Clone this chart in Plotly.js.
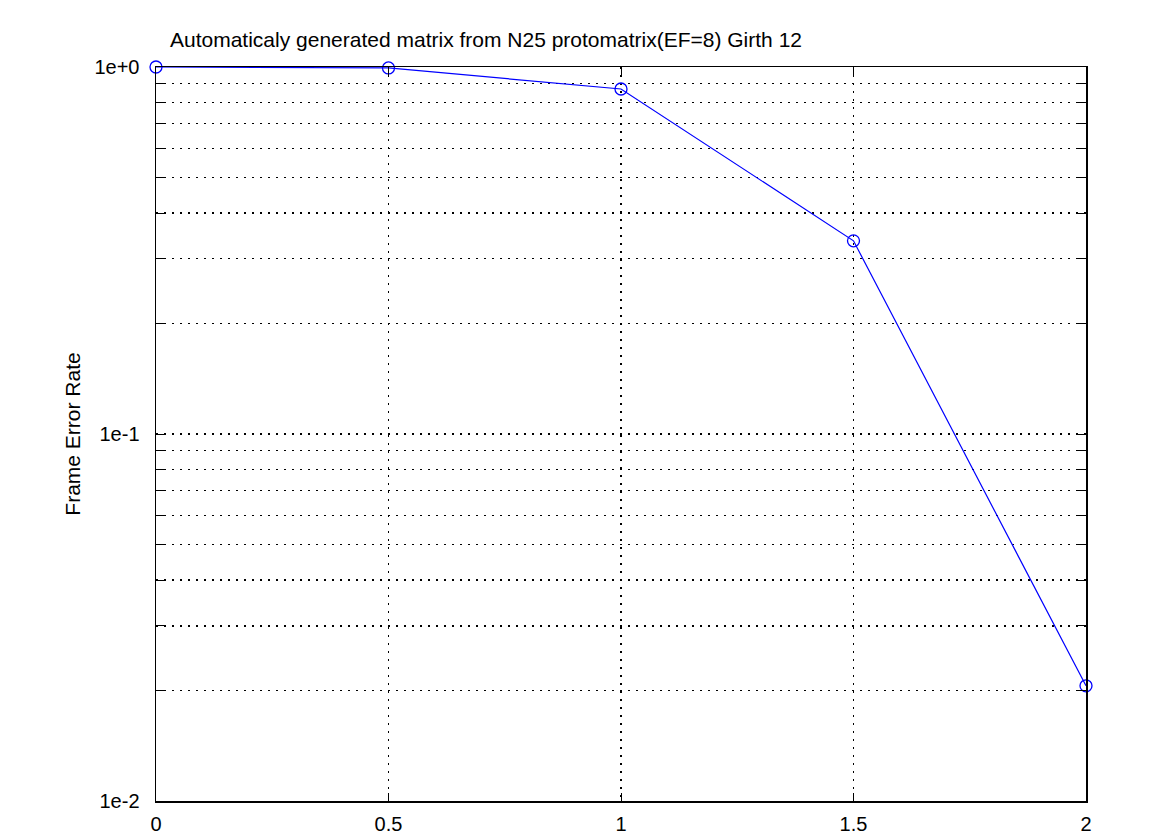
<!DOCTYPE html>
<html>
<head>
<meta charset="utf-8">
<script src="https://cdn.plot.ly/plotly-3.0.1.min.js"></script>
<style>html,body{margin:0;padding:0;background:#fff;}#chart{width:1175px;height:835px;}</style>
</head>
<body>
<div id="chart"></div>
<script>
const snr = [0, 0.5, 1, 1.5, 2];
const fer = [1.0, 0.994, 0.871, 0.336, 0.0206];
const xTickVals = [0, 0.5, 1, 1.5, 2];
const xTickText = ['0', '0.5', '1', '1.5', '2'];
const yMajorVals = [0.01, 0.1, 1];
const yMajorText = ['1e-2', '1e-1', '1e+0'];
const titleText = 'Automaticaly generated matrix from N25 protomatrix(EF=8) Girth 12';
const yTitle = 'Frame Error Rate';

// log ticks: decades plus 2..9 within each decade
const yTickVals = [];
const yTickText = [];
[0.01, 0.1].forEach(function (d) {
  for (let m = 1; m <= 9; m++) {
    yTickVals.push(d * m);
    yTickText.push(m === 1 ? yMajorText[yMajorVals.indexOf(d)] : '');
  }
});
yTickVals.push(1);
yTickText.push(yMajorText[2]);

const font = {family: 'Liberation Sans, Arial, sans-serif', size: 20, color: '#000'};
const titleFont = {family: 'Liberation Sans, Arial, sans-serif', size: 21, color: '#000'};

const trace = {
  x: snr, y: fer, type: 'scatter', mode: 'lines+markers',
  line: {color: '#0000ff', width: 1.2},
  marker: {symbol: 'circle-open', size: 12, color: '#0000ff', line: {width: 1.3, color: '#0000ff'}},
  cliponaxis: false
};

const layout = {
  width: 1175, height: 835,
  margin: {l: 156, r: 89, t: 67, b: 34},
  paper_bgcolor: '#fff', plot_bgcolor: '#fff',
  font: font,
  showlegend: false,
  title: {text: titleText, font: titleFont, x: 170/1175, xanchor: 'left', xref: 'container', y: 1 - 40/835, yanchor: 'middle', yref: 'container'},
  xaxis: {
    range: [0, 2], tickvals: xTickVals, ticktext: xTickText,
    showline: true, linecolor: '#000', linewidth: 1.5, mirror: 'allticks',
    ticks: 'inside', ticklen: 8, tickcolor: '#000', tickwidth: 1,
    showgrid: true, gridcolor: '#000', griddash: '2px,6px', gridwidth: 1.2,
    zeroline: false, tickfont: font, ticklabelstandoff: 4
  },
  yaxis: {
    type: 'log', range: [-2, 0], tickvals: yTickVals, ticktext: yTickText,
    showline: true, linecolor: '#000', linewidth: 1.5, mirror: 'allticks',
    ticks: 'inside', ticklen: 8, tickcolor: '#000', tickwidth: 1,
    showgrid: true, gridcolor: '#000', griddash: '2px,6px', gridwidth: 1.2,
    zeroline: false, tickfont: font, ticklabelstandoff: 11,
    title: {text: yTitle, font: titleFont, standoff: 8}
  }
};

Plotly.newPlot('chart', [trace], layout, {displayModeBar: false, staticPlot: true});
</script>
</body>
</html>
